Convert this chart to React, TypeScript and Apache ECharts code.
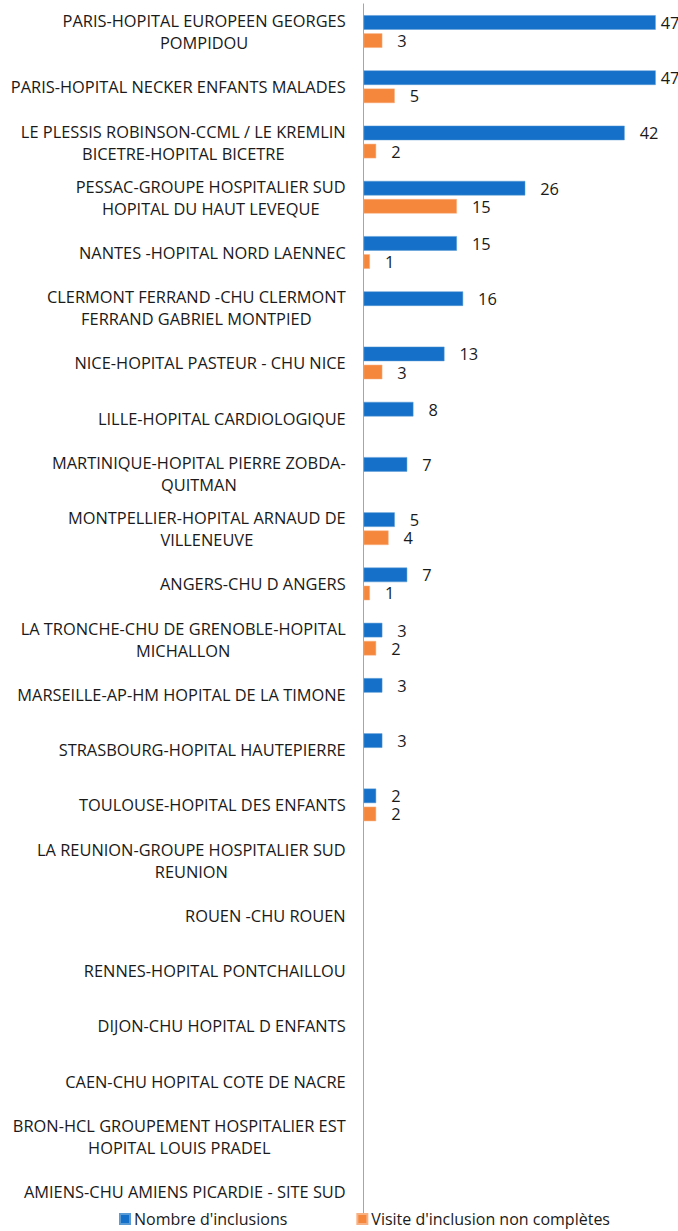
import React, { useEffect, useRef } from "react";
import * as echarts from "echarts";

const categories: string[] = [
  "PARIS-HOPITAL EUROPEEN GEORGES\nPOMPIDOU",
  "PARIS-HOPITAL NECKER ENFANTS MALADES",
  "LE PLESSIS ROBINSON-CCML / LE KREMLIN\nBICETRE-HOPITAL BICETRE",
  "PESSAC-GROUPE HOSPITALIER SUD\nHOPITAL DU HAUT LEVEQUE",
  "NANTES -HOPITAL NORD LAENNEC",
  "CLERMONT FERRAND -CHU CLERMONT\nFERRAND GABRIEL MONTPIED",
  "NICE-HOPITAL PASTEUR - CHU NICE",
  "LILLE-HOPITAL CARDIOLOGIQUE",
  "MARTINIQUE-HOPITAL PIERRE ZOBDA-\nQUITMAN",
  "MONTPELLIER-HOPITAL ARNAUD DE\nVILLENEUVE",
  "ANGERS-CHU D ANGERS",
  "LA TRONCHE-CHU DE GRENOBLE-HOPITAL\nMICHALLON",
  "MARSEILLE-AP-HM HOPITAL DE LA TIMONE",
  "STRASBOURG-HOPITAL HAUTEPIERRE",
  "TOULOUSE-HOPITAL DES ENFANTS",
  "LA REUNION-GROUPE HOSPITALIER SUD\nREUNION",
  "ROUEN -CHU ROUEN",
  "RENNES-HOPITAL PONTCHAILLOU",
  "DIJON-CHU HOPITAL D ENFANTS",
  "CAEN-CHU HOPITAL COTE DE NACRE",
  "BRON-HCL GROUPEMENT HOSPITALIER EST\nHOPITAL LOUIS PRADEL",
  "AMIENS-CHU AMIENS PICARDIE - SITE SUD",
];

const inclusions: (number | null)[] = [
  47, 47, 42, 26, 15, 16, 13, 8, 7, 5, 7, 3, 3, 3, 2,
  null, null, null, null, null, null, null,
];

const incompletes: (number | null)[] = [
  3, 5, 2, 15, 1, null, 3, null, null, 4, 1, 2, null, null, 2,
  null, null, null, null, null, null, null,
];

const seriesNames = ["Nombre d'inclusions", "Visite d'inclusion non complètes"];

const FONT = "'Open Sans', 'Noto Sans', sans-serif";
const FS = 16.4;
const MAX = 47;

const toData = (arr: (number | null)[]) =>
  arr.map((v) =>
    v == null
      ? null
      : v >= MAX - 1
      ? { value: v, label: { distance: 5 } }
      : v
  );

export default function App() {
  const ref = useRef<HTMLDivElement>(null);
  useEffect(() => {
    document.body.style.margin = "0";
    if (!ref.current) return;
    const chart = echarts.init(ref.current, null, { renderer: "svg" });
    const labelStyle = {
      show: true,
      position: "right" as const,
      distance: 15,
      fontFamily: FONT,
      fontSize: FS,
      lineHeight: 16,
      color: "#1a1a1a",
    };
    chart.setOption({
      animation: false,
      backgroundColor: "#ffffff",
      grid: { left: 363.7, right: 22.3, top: 3.9, height: 1215.3, containLabel: false },
      legend: {
        left: 114,
        top: 1205,
        itemWidth: 10,
        itemHeight: 10,
        itemGap: 69,
        icon: "rect",
        textStyle: {
          fontFamily: FONT,
          fontSize: 16,
          lineHeight: 18,
          color: "#1a1a1a",
          padding: [0, 0, 0, -1],
        },
        data: seriesNames,
      },
      xAxis: {
        type: "value",
        min: 0,
        max: MAX,
        show: false,
      },
      yAxis: {
        type: "category",
        inverse: true,
        data: categories,
        axisLine: { show: true, lineStyle: { color: "#a6a6a6", width: 1 } },
        axisTick: { show: false },
        axisLabel: {
          margin: 18,
          interval: 0,
          fontFamily: FONT,
          fontSize: FS,
          color: "#1a1a1a",
          lineHeight: 22,
          formatter: (v: string) =>
            v
              .split("\n")
              .map((l) => `{c|${l}}`)
              .join("\n"),
          rich: {
            c: { align: "center", fontFamily: FONT, fontSize: FS, color: "#1a1a1a", lineHeight: 22 },
          },
        },
      },
      series: [
        {
          name: seriesNames[0],
          type: "bar",
          data: toData(inclusions),
          barWidth: 14.5,
          barGap: "25%",
          itemStyle: { color: "#1470C8", borderColor: "#5b9bd5", borderWidth: 0.5 },
          label: labelStyle,
        },
        {
          name: seriesNames[1],
          type: "bar",
          data: toData(incompletes),
          barWidth: 14.5,
          barGap: "25%",
          itemStyle: { color: "#F4873C", borderColor: "#f8b183", borderWidth: 0.5 },
          label: labelStyle,
        },
      ],
    });
    return () => chart.dispose();
  }, []);
  return <div ref={ref} style={{ width: 678, height: 1231 }} />;
}
